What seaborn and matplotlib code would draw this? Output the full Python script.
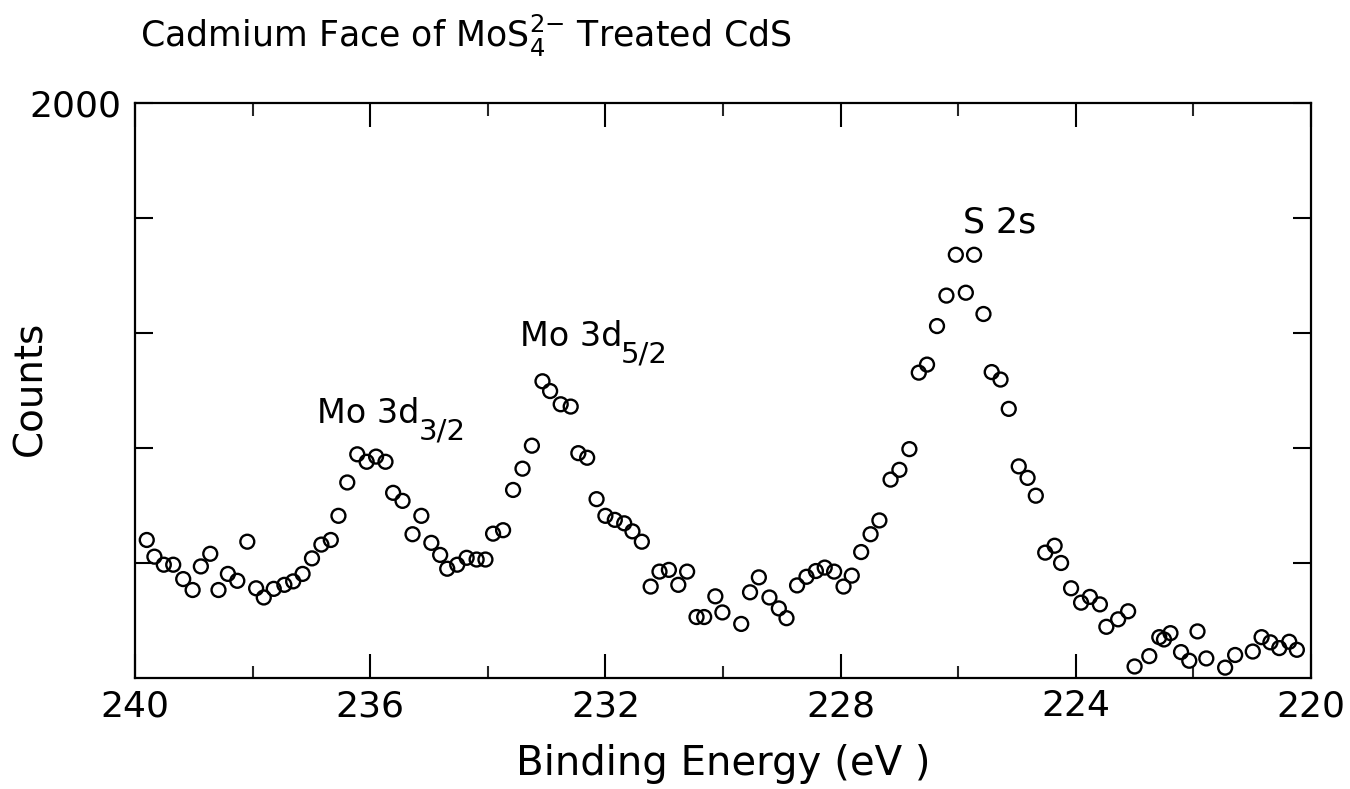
"""XPS spectrum: cadmium face of MoS4(2-) treated CdS."""

import matplotlib
matplotlib.use("Agg")
import matplotlib.pyplot as plt
import seaborn as sns

sns.set_style("ticks")
plt.rcParams['font.family'] = ['DejaVu Sans']
plt.rcParams['mathtext.fontset'] = 'dejavusans'
plt.rcParams['text.color'] = 'black'
plt.rcParams['axes.labelcolor'] = 'black'

# binding energy (eV) and counts
energy = [239.80, 239.67, 239.51, 239.35, 239.18, 239.02, 238.88, 238.72, 238.58, 238.42,
          238.26, 238.09, 237.94, 237.81, 237.64, 237.46, 237.31, 237.15, 236.99, 236.83,
          236.67, 236.54, 236.39, 236.22, 236.06, 235.90, 235.74, 235.61, 235.45, 235.28,
          235.13, 234.96, 234.81, 234.69, 234.52, 234.36, 234.19, 234.04, 233.91, 233.74,
          233.57, 233.41, 233.25, 233.07, 232.94, 232.76, 232.59, 232.46, 232.31, 232.15,
          232.00, 231.84, 231.68, 231.54, 231.38, 231.23, 231.08, 230.92, 230.76, 230.61,
          230.45, 230.32, 230.13, 230.01, 229.69, 229.54, 229.39, 229.21, 229.05, 228.92,
          228.74, 228.58, 228.42, 228.27, 228.11, 227.95, 227.81, 227.65, 227.49, 227.34,
          227.15, 227.00, 226.83, 226.67, 226.53, 226.36, 226.20, 226.04, 225.87, 225.73,
          225.57, 225.43, 225.28, 225.14, 224.97, 224.82, 224.68, 224.52, 224.36, 224.25,
          224.08, 223.91, 223.76, 223.59, 223.48, 223.28, 223.11, 223.00, 222.75, 222.58,
          222.50, 222.39, 222.21, 222.07, 221.93, 221.78, 221.46, 221.29, 220.99, 220.84,
          220.69, 220.54, 220.37, 220.24]
counts = [1240, 1211, 1197, 1197, 1172, 1153, 1194, 1216, 1153, 1181,
          1169, 1237, 1156, 1140, 1155, 1162, 1168, 1181, 1208, 1232,
          1240, 1282, 1340, 1389, 1376, 1385, 1376, 1322, 1308, 1250,
          1282, 1235, 1214, 1190, 1197, 1209, 1206, 1206, 1251, 1257,
          1327, 1364, 1404, 1516, 1499, 1476, 1472, 1391, 1383, 1311,
          1282, 1275, 1269, 1255, 1237, 1159, 1185, 1188, 1162, 1185,
          1106, 1106, 1142, 1114, 1094, 1149, 1175, 1140, 1121, 1104,
          1161, 1176, 1186, 1192, 1185, 1159, 1178, 1219, 1250, 1274,
          1345, 1362, 1398, 1531, 1545, 1612, 1665, 1736, 1670, 1736,
          1633, 1532, 1519, 1468, 1368, 1348, 1317, 1218, 1230, 1200,
          1156, 1131, 1141, 1128, 1089, 1102, 1116, 1020, 1038, 1071,
          1067, 1078, 1045, 1030, 1081, 1034, 1018, 1040, 1046, 1071,
          1062, 1052, 1063, 1049]

major_ticks = [240, 236, 232, 228, 224, 220]
minor_ticks = [238, 234, 230, 226, 222]
y_ticks = [1200, 1400, 1600, 1800, 2000]
y_labels = ['', '', '', '', '2000']

fig = plt.figure(figsize=(13.5, 7.89), dpi=100)
ax = fig.add_axes([0.1, 0.1407, 0.8711, 0.7288])

sns.scatterplot(x=energy, y=counts, ax=ax, marker='o', s=100,
                facecolor='none', edgecolor='black', linewidth=1.7, legend=False)

ax.set_xlim(240, 220)
ax.set_ylim(1000, 2000)
ax.set_xticks(major_ticks)
ax.set_xticks(minor_ticks, minor=True)
ax.set_xticklabels([str(t) for t in major_ticks])
ax.set_yticks(y_ticks)
ax.set_yticklabels(y_labels)

ax.tick_params(axis='x', which='major', direction='in', length=17, width=1.5,
               top=True, labelsize=26, pad=8, colors='black')
ax.tick_params(axis='x', which='minor', direction='in', length=9, width=1.5, top=True)
ax.tick_params(axis='y', which='major', direction='in', length=13, width=1.5,
               right=True, labelsize=26, pad=10, colors='black')
for sp in ax.spines.values():
    sp.set_linewidth(1.6)
    sp.set_color('black')
    sp.set_visible(True)

ax.set_xlabel('Binding Energy (eV )', fontsize=29, labelpad=15)
ax.set_ylabel('Counts', fontsize=28)
ax.yaxis.set_label_coords(-0.073, 0.503)

# peak labels, subscripts placed just after the main text
for x, y, main, sub in [(236.90, 1444, 'Mo 3d', '3/2'),
                        (233.45, 1578, 'Mo 3d', '5/2')]:
    t = ax.text(x, y, main, fontsize=24, ha='left', va='baseline')
    ax.annotate(sub, xy=(1, 0), xycoords=t, xytext=(-1, -7),
                textcoords='offset points', fontsize=21, ha='left', va='baseline')
ax.text(225.92, 1775, 'S 2s', fontsize=25, ha='left', va='baseline')

fig.text(0.104, 0.940, r'Cadmium Face of MoS$_4^{2{-}}$ Treated CdS', fontsize=25,
         ha='left', va='baseline')

fig.savefig('out.png', dpi=100)
